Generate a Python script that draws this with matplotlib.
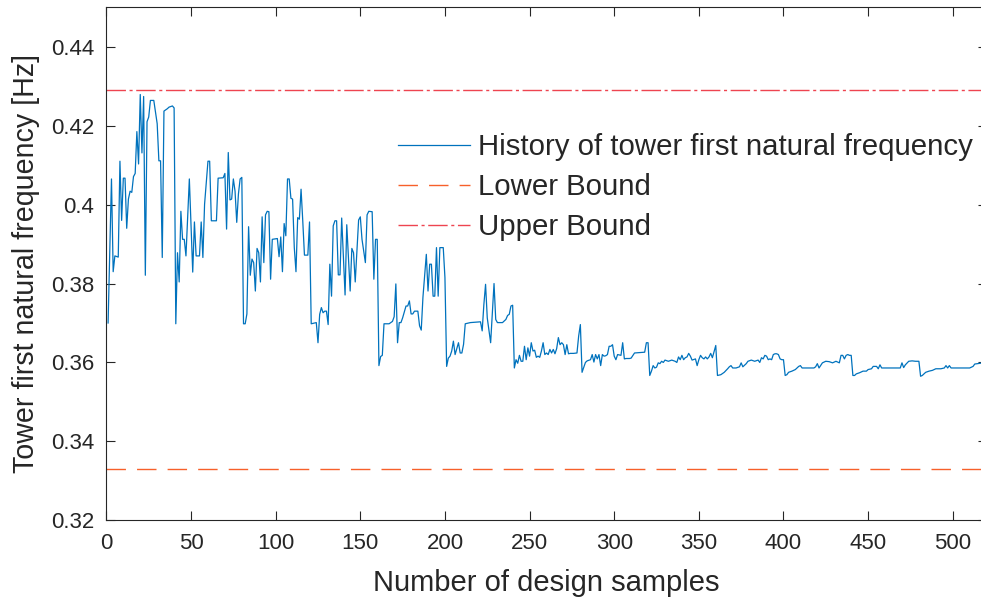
import matplotlib
matplotlib.use("Agg")
import matplotlib.pyplot as plt
from matplotlib.ticker import FixedLocator, FixedFormatter

plt.rcParams['font.family'] = ['Liberation Sans', 'DejaVu Sans']

# ---- data ----
samples = [
    1, 3, 4, 5, 7, 8, 9, 10, 11, 12, 13, 14, 15, 16, 17, 18, 19, 20, 21, 22, 23, 24, 25, 26, 28, 30, 31, 32, 33, 34, 36, 37, 39, 40,
    41, 42, 43, 44, 45, 46, 47, 49, 51, 52, 53, 55, 56, 57, 58, 60, 61, 62, 65, 66, 69, 70, 71, 72, 73, 74, 75, 76, 77, 78, 79, 80,
    81, 82, 83, 84, 85, 86, 87, 88, 89, 90, 91, 92, 93, 94, 95, 96, 97, 98, 101, 102, 103, 104, 105, 106, 107, 108, 109, 110, 111, 112, 113, 114, 115, 116, 117, 119, 120,
    121, 124, 125, 126, 127, 128, 129, 130, 131, 132, 133, 134, 135, 136, 137, 138, 139, 141, 142, 144, 145, 146, 147, 149, 150, 151, 153, 154, 155, 157, 158, 159, 160,
    161, 162, 163, 164, 167, 169, 170, 171, 172, 173, 174, 175, 177, 178, 179, 180, 181, 182, 184, 185, 186, 187, 189, 190, 191, 192, 193, 194, 195, 196, 197, 199, 200,
    201, 202, 203, 204, 205, 206, 208, 209, 210, 211, 212, 215, 221, 222, 223, 224, 225, 227, 229, 230, 231, 234, 236, 237, 238, 239, 240,
    241, 242, 243, 244, 245, 246, 247, 248, 249, 250, 251, 252, 253, 254, 255, 256, 257, 258, 259, 260, 261, 262, 263, 264, 265, 266, 267, 268, 269, 270, 271, 272, 273, 274, 276, 278, 279, 280,
    281, 283, 284, 286, 287, 288, 289, 290, 291, 292, 293, 294, 295, 296, 297, 298, 299, 300, 301, 302, 304, 305, 306, 307, 309, 310, 312, 318, 319, 320,
    321, 322, 323, 324, 325, 326, 327, 328, 329, 330, 332, 334, 336, 337, 338, 339, 340, 341, 342, 343, 344, 345, 346, 348, 349, 350, 351, 352, 353, 354, 355, 356, 357, 358, 359, 360,
    361, 363, 365, 367, 368, 369, 370, 372, 374, 375, 376, 378, 379, 381, 383, 385, 386, 387, 388, 389, 390, 391, 392, 393, 394, 395, 396, 397, 398, 399, 400,
    401, 402, 403, 405, 407, 409, 410, 411, 412, 418, 419, 420, 421, 423, 425, 427, 429, 431, 433, 434, 435, 436, 437, 438, 439, 440,
    441, 442, 443, 445, 447, 449, 450, 452, 453, 454, 455, 456, 457, 458, 469, 470, 471, 472, 474, 476, 478, 480,
    481, 482, 484, 486, 488, 490, 493, 495, 496, 497, 498, 499, 510, 512, 513, 518,
]
frequency = [
    0.3700, 0.4065, 0.3830, 0.3870, 0.3867, 0.4110, 0.3960, 0.4067, 0.4067, 0.3940, 0.4014, 0.4034, 0.4031, 0.4071, 0.4079, 0.4185, 0.4103, 0.4279, 0.4131, 0.4274, 0.3821, 0.4210, 0.4222, 0.4264, 0.4264, 0.4205, 0.4111, 0.4111, 0.3866, 0.4237, 0.4243, 0.4247, 0.4250, 0.4245,
    0.3698, 0.3878, 0.3804, 0.3983, 0.3912, 0.3912, 0.3870, 0.4065, 0.3829, 0.3956, 0.3870, 0.3870, 0.3956, 0.3866, 0.4001, 0.4110, 0.4110, 0.3959, 0.3959, 0.4067, 0.4068, 0.4079, 0.3938, 0.4132, 0.4012, 0.4014, 0.4065, 0.4034, 0.3955, 0.4027, 0.4065, 0.4069,
    0.3698, 0.3698, 0.3723, 0.3944, 0.3821, 0.3862, 0.3853, 0.3781, 0.3889, 0.3878, 0.3804, 0.3969, 0.3853, 0.3974, 0.3983, 0.3982, 0.3811, 0.3912, 0.3914, 0.3868, 0.3918, 0.3830, 0.3952, 0.3921, 0.4065, 0.4065, 0.4016, 0.4014, 0.3891, 0.3830, 0.3967, 0.3963, 0.4039, 0.3959, 0.3872, 0.3872, 0.3956,
    0.3698, 0.3701, 0.3650, 0.3722, 0.3739, 0.3726, 0.3730, 0.3730, 0.3696, 0.3849, 0.3768, 0.3946, 0.3959, 0.3959, 0.3822, 0.3822, 0.3966, 0.3771, 0.3949, 0.3781, 0.3889, 0.3878, 0.3804, 0.3961, 0.3969, 0.3912, 0.3853, 0.3974, 0.3983, 0.3982, 0.3811, 0.3912, 0.3912,
    0.3592, 0.3615, 0.3618, 0.3698, 0.3698, 0.3704, 0.3716, 0.3799, 0.3650, 0.3701, 0.3701, 0.3713, 0.3743, 0.3743, 0.3756, 0.3723, 0.3723, 0.3730, 0.3730, 0.3693, 0.3682, 0.3765, 0.3874, 0.3781, 0.3849, 0.3849, 0.3768, 0.3768, 0.3891, 0.3768, 0.3891, 0.3891, 0.3815,
    0.3590, 0.3611, 0.3616, 0.3629, 0.3654, 0.3620, 0.3650, 0.3624, 0.3624, 0.3646, 0.3698, 0.3701, 0.3703, 0.3680, 0.3747, 0.3798, 0.3713, 0.3650, 0.3800, 0.3709, 0.3701, 0.3701, 0.3709, 0.3719, 0.3722, 0.3743, 0.3745,
    0.3586, 0.3607, 0.3598, 0.3618, 0.3603, 0.3603, 0.3641, 0.3607, 0.3637, 0.3616, 0.3650, 0.3629, 0.3631, 0.3613, 0.3616, 0.3613, 0.3629, 0.3650, 0.3620, 0.3624, 0.3620, 0.3633, 0.3624, 0.3633, 0.3622, 0.3635, 0.3663, 0.3645, 0.3650, 0.3645, 0.3620, 0.3645, 0.3622, 0.3623, 0.3623, 0.3624, 0.3667, 0.3696,
    0.3575, 0.3600, 0.3604, 0.3607, 0.3620, 0.3601, 0.3620, 0.3609, 0.3620, 0.3592, 0.3620, 0.3616, 0.3617, 0.3620, 0.3641, 0.3641, 0.3645, 0.3616, 0.3607, 0.3620, 0.3618, 0.3650, 0.3609, 0.3610, 0.3610, 0.3611, 0.3624, 0.3626, 0.3650, 0.3650,
    0.3567, 0.3578, 0.3592, 0.3586, 0.3588, 0.3599, 0.3597, 0.3603, 0.3600, 0.3606, 0.3603, 0.3606, 0.3603, 0.3600, 0.3614, 0.3607, 0.3618, 0.3607, 0.3612, 0.3614, 0.3623, 0.3616, 0.3606, 0.3609, 0.3592, 0.3607, 0.3618, 0.3612, 0.3609, 0.3614, 0.3609, 0.3614, 0.3623, 0.3612, 0.3628, 0.3643,
    0.3567, 0.3569, 0.3575, 0.3584, 0.3589, 0.3592, 0.3586, 0.3586, 0.3589, 0.3599, 0.3589, 0.3597, 0.3603, 0.3606, 0.3603, 0.3606, 0.3600, 0.3612, 0.3609, 0.3618, 0.3616, 0.3607, 0.3609, 0.3607, 0.3620, 0.3622, 0.3622, 0.3620, 0.3609, 0.3607, 0.3607,
    0.3567, 0.3569, 0.3575, 0.3578, 0.3582, 0.3590, 0.3592, 0.3586, 0.3586, 0.3586, 0.3589, 0.3597, 0.3586, 0.3599, 0.3603, 0.3602, 0.3599, 0.3603, 0.3599, 0.3618, 0.3618, 0.3609, 0.3618, 0.3620, 0.3618, 0.3618,
    0.3567, 0.3567, 0.3571, 0.3574, 0.3578, 0.3578, 0.3582, 0.3584, 0.3590, 0.3590, 0.3590, 0.3584, 0.3594, 0.3586, 0.3586, 0.3599, 0.3587, 0.3594, 0.3603, 0.3604, 0.3603, 0.3603,
    0.3565, 0.3567, 0.3575, 0.3578, 0.3580, 0.3584, 0.3584, 0.3586, 0.3592, 0.3586, 0.3592, 0.3586, 0.3586, 0.3590, 0.3596, 0.3599,
]
lower_bound = 0.333
upper_bound = 0.429
series_labels = ["History of tower first natural frequency", "Lower Bound", "Upper Bound"]
x_ticks = [0, 50, 100, 150, 200, 250, 300, 350, 400, 450, 500]
y_ticks = [0.32, 0.34, 0.36, 0.38, 0.40, 0.42, 0.44]
y_tick_labels = ["0.32", "0.34", "0.36", "0.38", "0.4", "0.42", "0.44"]
x_label = "Number of design samples"
y_label = "Tower first natural frequency [Hz]"

# ---- figure ----
W, H = 981, 601
fig = plt.figure(figsize=(W / 100, H / 100), dpi=100)
x_max = 520
px_per_unit = 1.6927
ax_left, ax_bottom_px, ax_top_px = 106.4, 520.3, 7.3
ax = fig.add_axes([ax_left / W, (H - ax_bottom_px) / H,
                   x_max * px_per_unit / W, (ax_bottom_px - ax_top_px) / H])

axis_color = '#262626'
ax.plot(samples, frequency, color='#0072BD', linewidth=0.9, label=series_labels[0])
ax.axhline(lower_bound, color='#F7602A', linewidth=1.0, dashes=(14, 8), label=series_labels[1])
ax.axhline(upper_bound, color='#EE4450', linewidth=1.0, dashes=(14, 2.6, 2.2, 2.6), label=series_labels[2])

ax.set_xlim(0, x_max)
ax.set_ylim(0.32, 0.45)
ax.xaxis.set_major_locator(FixedLocator(x_ticks))
ax.yaxis.set_major_locator(FixedLocator(y_ticks))
ax.yaxis.set_major_formatter(FixedFormatter(y_tick_labels))

for s in ax.spines.values():
    s.set_color(axis_color)
    s.set_linewidth(0.8)
ax.tick_params(direction='in', length=6.3, width=0.8, color=axis_color,
               labelcolor=axis_color, labelsize=16, top=True, right=True)
ax.tick_params(axis='x', pad=9.5)
ax.tick_params(axis='y', pad=9.0)

ax.set_xlabel(x_label, fontsize=21, color=axis_color)
ax.set_ylabel(y_label, fontsize=20.6, color=axis_color)
ax.xaxis.set_label_coords(0.5, -0.095)
ax.yaxis.set_label_coords(-0.0755, 0.5)

leg = ax.legend(loc='upper left', bbox_to_anchor=(0.3313, 0.755), frameon=False,
                fontsize=21.2, handlelength=2.45, handletextpad=0.27, labelspacing=0.41,
                borderpad=0, borderaxespad=0)
for t in leg.get_texts():
    t.set_color(axis_color)

fig.savefig('out.png', dpi=100)
